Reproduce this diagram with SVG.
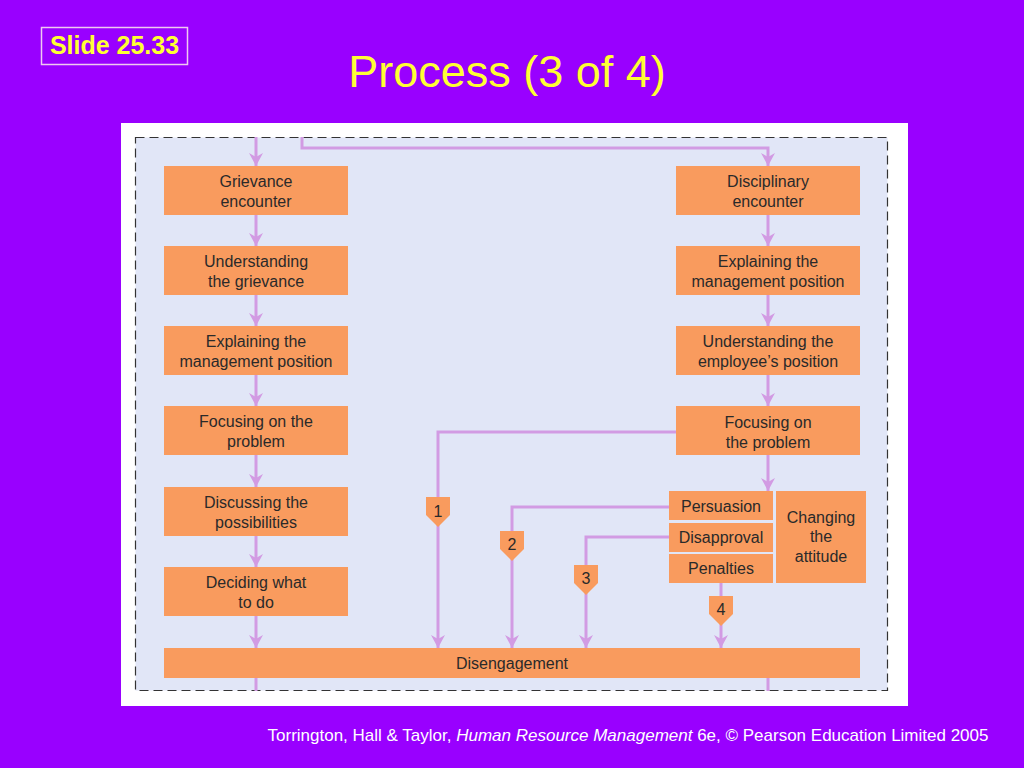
<svg xmlns="http://www.w3.org/2000/svg" width="1024" height="768" viewBox="0 0 1024 768">
<defs>
<marker id="ah" markerUnits="userSpaceOnUse" markerWidth="16" markerHeight="16" viewBox="-14 -8 16 16" refX="0" refY="0" orient="auto">
<path d="M0,0 L-13,-7 L-9,0 L-13,7 Z" fill="#D29BE3"/>
</marker>
</defs>
<style>
.box{fill:#F99B5E}
.t{font-family:"Liberation Sans",Arial,sans-serif;font-size:16px;fill:#2a2a2a;text-anchor:middle}
.c{fill:none;stroke:#D29BE3;stroke-width:3}
.b{fill:#F99B5E}
</style>
<rect x="0" y="0" width="1024" height="768" fill="#9900FF"/>
<rect x="41.5" y="27.5" width="146" height="37" fill="none" stroke="#F0C8F0" stroke-width="1.5"/>
<text x="114.5" y="54" font-family="Liberation Sans,Arial,sans-serif" font-size="25" font-weight="bold" fill="#FFFF33" text-anchor="middle">Slide 25.33</text>
<text x="507" y="87" font-family="Liberation Sans,Arial,sans-serif" font-size="45" fill="#FFFF33" text-anchor="middle">Process (3 of 4)</text>
<rect x="121" y="123" width="787" height="583" fill="#FFFFFF"/>
<rect x="135.5" y="137.5" width="752" height="553" fill="#E1E6F7" stroke="#333" stroke-width="1.2" stroke-dasharray="9,5"/>

<g id="connectors">
<path class="c" d="M256,137 V166" marker-end="url(#ah)"/>
<path class="c" d="M302,137 V148 H768 V166" marker-end="url(#ah)"/>
<path class="c" d="M256,215 V246" marker-end="url(#ah)"/>
<path class="c" d="M256,295 V326" marker-end="url(#ah)"/>
<path class="c" d="M256,375 V406" marker-end="url(#ah)"/>
<path class="c" d="M256,455 V487" marker-end="url(#ah)"/>
<path class="c" d="M256,536 V567" marker-end="url(#ah)"/>
<path class="c" d="M256,616 V648" marker-end="url(#ah)"/>
<path class="c" d="M256,678 V691"/>
<path class="c" d="M768,215 V246" marker-end="url(#ah)"/>
<path class="c" d="M768,295 V326" marker-end="url(#ah)"/>
<path class="c" d="M768,375 V406" marker-end="url(#ah)"/>
<path class="c" d="M768,455 V491" marker-end="url(#ah)"/>
<path class="c" d="M768,678 V691"/>
<path class="c" d="M676,432 H438 V648" marker-end="url(#ah)"/>
<path class="c" d="M669,507 H512 V648" marker-end="url(#ah)"/>
<path class="c" d="M669,537 H586 V648" marker-end="url(#ah)"/>
<path class="c" d="M721,583 V648" marker-end="url(#ah)"/>
</g>

<g id="badge1"><path class="b" d="M426,497 H450 V515 L438,527 L426,515 Z"/><text class="t" x="438" y="517">1</text></g>
<g id="badge2"><path class="b" d="M500,531 H524 V549 L512,561 L500,549 Z"/><text class="t" x="512" y="550">2</text></g>
<g id="badge3"><path class="b" d="M574,565 H598 V583 L586,595 L574,583 Z"/><text class="t" x="586" y="584">3</text></g>
<g id="badge4"><path class="b" d="M709,596 H733 V614 L721,626 L709,614 Z"/><text class="t" x="721" y="615">4</text></g>

<g id="grievance"><rect class="box" x="164" y="166" width="184" height="49"/><text class="t" x="256" y="187">Grievance</text><text class="t" x="256" y="207">encounter</text></g>
<g id="understanding-grievance"><rect class="box" x="164" y="246" width="184" height="49"/><text class="t" x="256" y="267">Understanding</text><text class="t" x="256" y="287">the grievance</text></g>
<g id="explaining-left"><rect class="box" x="164" y="326" width="184" height="49"/><text class="t" x="256" y="347">Explaining the</text><text class="t" x="256" y="367">management position</text></g>
<g id="focusing-left"><rect class="box" x="164" y="406" width="184" height="49"/><text class="t" x="256" y="427">Focusing on the</text><text class="t" x="256" y="447">problem</text></g>
<g id="discussing"><rect class="box" x="164" y="487" width="184" height="49"/><text class="t" x="256" y="508">Discussing the</text><text class="t" x="256" y="528">possibilities</text></g>
<g id="deciding"><rect class="box" x="164" y="567" width="184" height="49"/><text class="t" x="256" y="588">Deciding what</text><text class="t" x="256" y="608">to do</text></g>

<g id="disciplinary"><rect class="box" x="676" y="166" width="184" height="49"/><text class="t" x="768" y="187">Disciplinary</text><text class="t" x="768" y="207">encounter</text></g>
<g id="explaining-right"><rect class="box" x="676" y="246" width="184" height="49"/><text class="t" x="768" y="267">Explaining the</text><text class="t" x="768" y="287">management position</text></g>
<g id="understanding-employee"><rect class="box" x="676" y="326" width="184" height="49"/><text class="t" x="768" y="347">Understanding the</text><text class="t" x="768" y="367">employee’s position</text></g>
<g id="focusing-right"><rect class="box" x="676" y="406" width="184" height="49"/><text class="t" x="768" y="428">Focusing on</text><text class="t" x="768" y="448">the problem</text></g>

<g id="persuasion"><rect class="box" x="669" y="491" width="104" height="29"/><text class="t" x="721" y="512">Persuasion</text></g>
<g id="disapproval"><rect class="box" x="669" y="523" width="104" height="29"/><text class="t" x="721" y="543">Disapproval</text></g>
<g id="penalties"><rect class="box" x="669" y="554" width="104" height="29"/><text class="t" x="721" y="574">Penalties</text></g>
<g id="changing"><rect class="box" x="776" y="491" width="90" height="92"/><text class="t" x="821" y="523">Changing</text><text class="t" x="821" y="542">the</text><text class="t" x="821" y="562">attitude</text></g>

<g id="disengagement"><rect class="box" x="164" y="648" width="696" height="30"/><text class="t" x="512" y="669">Disengagement</text></g>

<text x="628" y="741" font-family="Liberation Sans,Arial,sans-serif" font-size="17" fill="#FFFFFF" text-anchor="middle">Torrington, Hall &amp; Taylor, <tspan font-style="italic">Human Resource Management</tspan> 6e, © Pearson Education Limited 2005</text>
</svg>
